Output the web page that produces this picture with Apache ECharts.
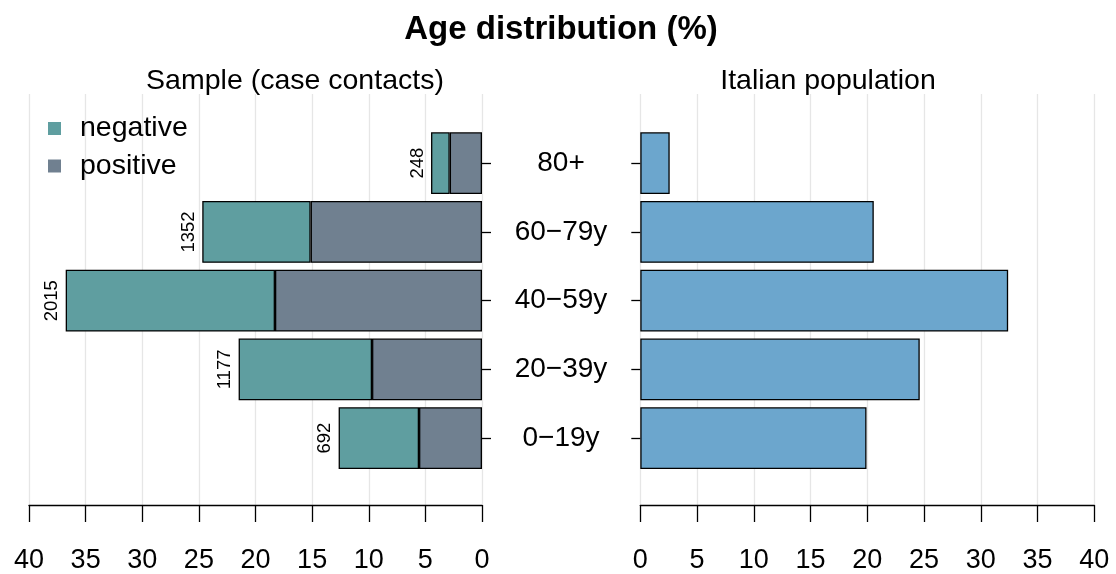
<!DOCTYPE html>
<html>
<head>
<meta charset="utf-8">
<script src="https://cdn.jsdelivr.net/npm/echarts@6/dist/echarts.min.js"></script>
<style>
html,body{margin:0;padding:0;background:#fff;}
#chart{width:1116px;height:574px;}
</style>
</head>
<body>
<div id="chart"></div>
<script>
// Data (bottom to top)
var categories = ['0\u221219y', '20\u221239y', '40\u221259y', '60\u221279y', '80+'];
var positivePct = [5.56, 9.71, 18.28, 15.13, 2.85];
var negativePct = [7.10, 11.78, 18.48, 9.57, 1.65];
var sampleCounts = [692, 1177, 2015, 1352, 248];
var italianPct = [19.93, 24.62, 32.41, 20.57, 2.59];
var tickValues = [0, 5, 10, 15, 20, 25, 30, 35, 40];

var FONT = 'Liberation Sans, Arial, Helvetica, sans-serif';
var chart = echarts.init(document.getElementById('chart'), null, {renderer: 'canvas'});

function frameX(gridIndex, inverse) {
  return {
    type: 'value', gridIndex: gridIndex, inverse: inverse,
    min: tickValues[0], max: tickValues[tickValues.length - 1], interval: 5,
    axisLine: {show: true, lineStyle: {color: '#000', width: 1.3}},
    axisTick: {show: true, length: 17, lineStyle: {color: '#000', width: 1.3}},
    axisLabel: {show: true, fontSize: 27, color: '#000', fontFamily: FONT, margin: 42},
    splitLine: {show: true, lineStyle: {color: '#E6E6E6', width: 1.3}}
  };
}
function hiddenX(gridIndex, inverse) {
  return {type: 'value', gridIndex: gridIndex, inverse: inverse, min: 0, max: 40, show: false, splitLine: {show: false}};
}

var option = {
  animation: false,
  backgroundColor: '#fff',
  title: [
    {text: 'Age distribution (%)', left: 556, top: 8, textAlign: 'center',
     textStyle: {fontSize: 33, fontWeight: 'bold', color: '#000', fontFamily: FONT}},
    {text: 'Sample (case contacts)', left: 290, top: 62, textAlign: 'center',
     textStyle: {fontSize: 28.5, fontWeight: 'normal', color: '#000', fontFamily: FONT}},
    {text: 'Italian population', left: 823, top: 62, textAlign: 'center',
     textStyle: {fontSize: 28.5, fontWeight: 'normal', color: '#000', fontFamily: FONT}}
  ],
  legend: {
    data: ['negative', 'positive'],
    orient: 'vertical', left: 48, top: 114, padding: 0,
    icon: 'rect', itemWidth: 13, itemHeight: 13, itemGap: 8.5,
    itemStyle: {borderWidth: 0},
    textStyle: {fontSize: 28.5, lineHeight: 27, color: '#000', fontFamily: FONT, padding: [0, 0, 0, 14]},
    selectedMode: false
  },
  grid: [
    {left: 29, top: 94, width: 453, height: 412.7},
    {left: 29, top: 128.8, width: 453, height: 343.75},
    {left: 640.3, top: 94, width: 454, height: 412.7},
    {left: 640.3, top: 128.8, width: 454, height: 343.75}
  ],
  xAxis: [frameX(0, true), hiddenX(1, true), frameX(2, false), hiddenX(3, false)],
  yAxis: [
    {type: 'value', gridIndex: 0, show: false},
    {type: 'category', gridIndex: 1, data: categories, position: 'right',
     axisLine: {show: false},
     axisTick: {show: true, length: 9, alignWithLabel: true, lineStyle: {color: '#000', width: 1.3}},
     axisLabel: {show: true, align: 'center', margin: 79, fontSize: 28, color: '#000', fontFamily: FONT},
     splitLine: {show: false}},
    {type: 'value', gridIndex: 2, show: false},
    {type: 'category', gridIndex: 3, data: categories, position: 'left',
     axisLine: {show: false},
     axisTick: {show: true, length: 9, alignWithLabel: true, lineStyle: {color: '#000', width: 1.3}},
     axisLabel: {show: false},
     splitLine: {show: false}}
  ],
  series: [
    {name: 'positive', type: 'bar', xAxisIndex: 1, yAxisIndex: 1, stack: 'sample',
     data: positivePct, barCategoryGap: '10%',
     itemStyle: {color: '#708090', borderColor: '#000', borderWidth: 1.3}},
    {name: 'negative', type: 'bar', xAxisIndex: 1, yAxisIndex: 1, stack: 'sample',
     data: negativePct, barCategoryGap: '10%',
     itemStyle: {color: '#5F9EA0', borderColor: '#000', borderWidth: 1.3},
     label: {show: true, position: 'left', distance: 4, rotate: 90, align: 'center', verticalAlign: 'bottom',
       fontSize: 18.5, color: '#000', fontFamily: FONT,
       formatter: function (p) { return String(sampleCounts[p.dataIndex]); }}},
    {name: 'Italian population', type: 'bar', xAxisIndex: 3, yAxisIndex: 3,
     data: italianPct, barCategoryGap: '10%',
     itemStyle: {color: '#6CA6CD', borderColor: '#000', borderWidth: 1.3}}
  ]
};
chart.setOption(option);
</script>
</body>
</html>
